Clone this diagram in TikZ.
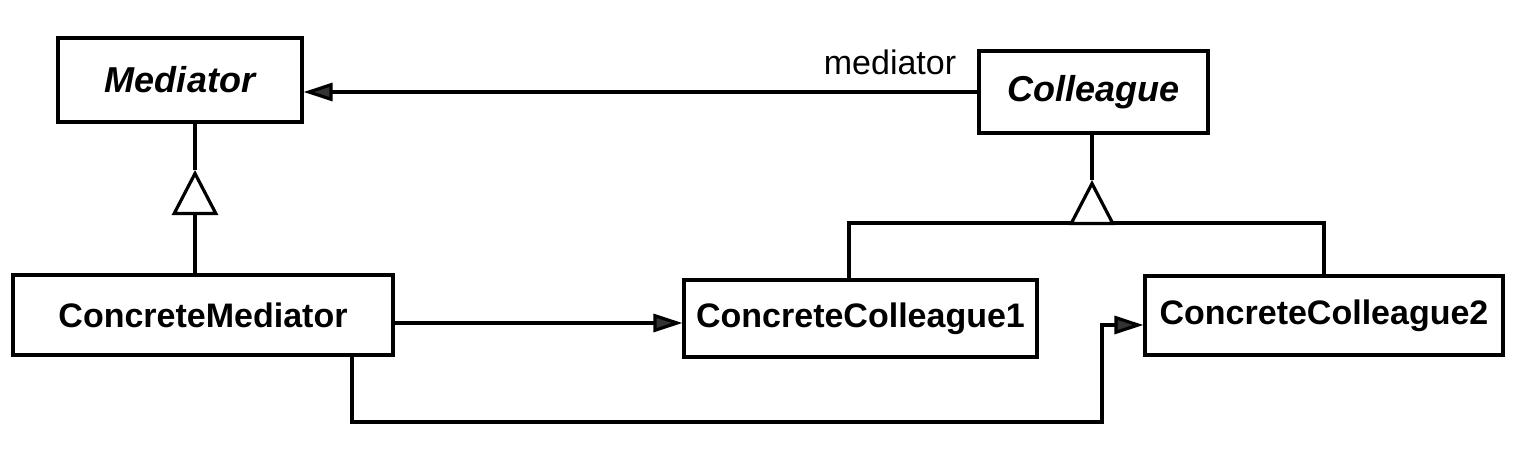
\documentclass[tikz,border=0pt]{standalone}
\usepackage{fontspec}
\setmainfont{Liberation Sans}
\usetikzlibrary{arrows.meta}
\begin{document}
\begin{tikzpicture}[x=1pt,y=-1pt,line width=3.2pt,
  cls/.style={draw, inner sep=0pt, font=\fontsize{34}{40}\selectfont\bfseries},
  abs/.style={cls, font=\fontsize{36}{42}\selectfont\bfseries\itshape},
  nav/.style={-{Triangle[length=29pt,width=18pt,fill=black!80]}},
  gen/.style={-{Triangle[length=45pt,width=46pt,fill=white]}}]
\useasboundingbox (0,0) rectangle (1517,456);
\fill[white] (0,0) rectangle (1517,456);
% classes
\node[abs, minimum width=244pt, minimum height=84pt] (Mediator) at (180,80) {Mediator};
\node[abs, minimum width=229pt, minimum height=82pt] (Colleague) at (1093.5,92) {Colleague};
\node[cls, minimum width=380pt, minimum height=80pt] (CM) at (203,315) {ConcreteMediator};
\node[cls, minimum width=353pt, minimum height=77pt] (CC1) at (860.5,318.5) {ConcreteColleague1};
\node[cls, minimum width=358pt, minimum height=79pt] (CC2) at (1324,315.5) {ConcreteColleague2};
\node[font=\fontsize{34}{40}\selectfont, inner sep=0pt] (role) at (890,62) {mediator};
% association Colleague -> Mediator
\draw[nav] (Colleague.west) -- (Colleague.west -| Mediator.east);
% inheritance Mediator
\coordinate (mapex) at (195,170);
\draw[gen] ([xshift=-8pt]CM.north) -- (mapex);
\draw (mapex) -- ([xshift=15pt]Mediator.south);
% inheritance Colleague
\coordinate (capex) at (1092,180);
\coordinate (cjoin) at (1092,223);
\draw ([xshift=-11.5pt]CC1.north) |- (CC2.north |- cjoin) -- (CC2.north);
\draw[gen] (cjoin) -- (capex);
\draw (capex) -- (capex |- Colleague.south);
% ConcreteMediator -> ConcreteColleague1
\draw[nav] (CM.east |- 0,323) -- ([yshift=-4.5pt]CC1.west);
% ConcreteMediator -> ConcreteColleague2
\coordinate (bend) at (1102,422);
\draw[nav] ([xshift=149pt]CM.south) |- (bend) |- ([yshift=-9.5pt]CC2.west);
\end{tikzpicture}
\end{document}
